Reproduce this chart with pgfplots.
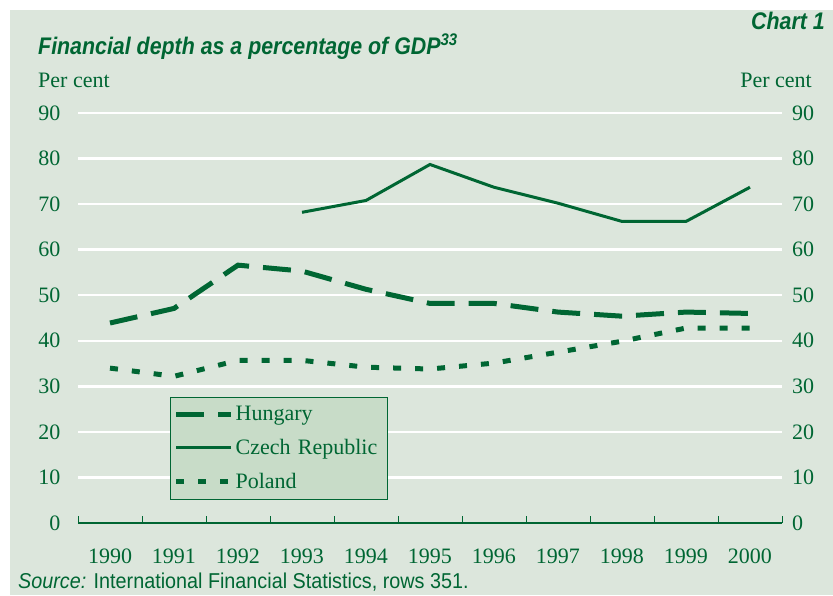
\documentclass[border=0pt]{standalone}
\usepackage{fontspec}
\setmainfont{Liberation Serif}
\newfontfamily\csans[FakeStretch=0.89]{Liberation Sans}
\newfontfamily\ssans[FakeStretch=0.92]{Liberation Sans}
\usepackage{pgfplots}
\pgfplotsset{compat=1.18}
\definecolor{dg}{RGB}{0,102,51}
\definecolor{bgc}{RGB}{220,230,220}
\definecolor{lgc}{RGB}{200,220,200}
\begin{document}
\begin{tikzpicture}
\fill[white] (0pt,0pt) rectangle (833pt,595pt);
\fill[bgc] (10pt,0pt) rectangle (833pt,585pt);
\begin{axis}[
  at={(78pt,72pt)}, anchor=south west,
  scale only axis, width=704pt, height=410pt,
  xmin=1989.5, xmax=2000.5, ymin=0, ymax=90,
  axis line style={draw=none},
  ytick={10,20,...,90},
  extra y ticks={0}, extra y tick style={grid=none},
  ymajorgrids, grid style={white, line width=2.5pt},
  xtick={1990,...,2000},
  xticklabels={1990,1991,1992,1993,1994,1995,1996,1997,1998,1999,2000},
  xminorticks=false, yminorticks=false,
  major tick length=0pt,
  xtick pos=bottom, ytick pos=left,
  xtick style={draw=none}, ytick style={draw=none},
  tick label style={font=\fontsize{22}{24}\selectfont, text=dg},
  /pgf/number format/assume math mode=true,
  /pgf/number format/1000 sep={},
  xticklabel style={yshift=-22pt},
  yticklabel style={xshift=-14pt},
  clip=false,
  legend style={at={(rel axis cs:0.131,0.307)}, anchor=north west,
    fill=lgc, draw=dg, line width=0.8pt, text=dg,
    font=\fontsize{22}{24}\selectfont, row sep=13pt, inner xsep=3pt, inner ysep=7pt,
    text width=147pt},
  legend cell align=left,
  legend image code/.code={\draw[#1] (0pt,0pt) -- (55pt,0pt);},
]
\draw[dg, line width=1.2pt] (axis cs:1989.5,0) -- (axis cs:2000.5,0);
\pgfplotsinvokeforeach{1989.5,1990.5,1991.5,1992.5,1993.5,1994.5,1995.5,1996.5,1997.5,1998.5,1999.5,2000.5}{
  \draw[dg, line width=1pt] (axis cs:#1,0) -- (axis cs:#1,1.55);
}
\pgfplotsinvokeforeach{0,10,20,30,40,50,60,70,80,90}{
  \node[anchor=west, inner sep=0pt, text=dg, font=\fontsize{22}{24}\selectfont] at (axis cs:2000.5,#1) {\hspace*{10pt}#1};
}
\addplot[dg, line width=5pt, dash pattern=on 28pt off 14pt] coordinates {
(1990,43.9)(1991,47.1)(1992,56.6)(1993,55.3)(1994,51.3)(1995,48.2)
(1996,48.2)(1997,46.3)(1998,45.4)(1999,46.3)(2000,46.0)};
\addlegendentry{Hungary}
\addplot[dg, line width=3pt] coordinates {
(1993,68.2)(1994,70.8)(1995,78.7)(1996,73.7)(1997,70.2)(1998,66.2)(1999,66.2)(2000,73.7)};
\addlegendentry{Czech Republic}
\addplot[dg, line width=5pt, dash pattern=on 8pt off 14pt] coordinates {
(1990,34.0)(1991,32.2)(1992,35.7)(1993,35.7)(1994,34.2)(1995,33.8)
(1996,35.1)(1997,37.5)(1998,39.9)(1999,42.8)(2000,42.8)};
\addlegendentry{Poland}
\end{axis}
\node[anchor=base west, text=dg, inner sep=0pt, font=\fontsize{22}{24}\selectfont] at (38pt,507pt) {Per cent};
\node[anchor=base east, text=dg, inner sep=0pt, font=\fontsize{22}{24}\selectfont] at (812pt,507pt) {Per cent};
\node[anchor=base west, text=dg, inner sep=0pt, font=\csans\bfseries\itshape\fontsize{24}{26}\selectfont] at (38pt,540pt) {Financial depth as a percentage of GDP\textsuperscript{33}};
\node[anchor=base east, text=dg, inner sep=0pt, font=\csans\bfseries\itshape\fontsize{24}{26}\selectfont] at (825pt,565pt) {Chart 1};
\node[anchor=base west, text=dg, inner sep=0pt, font=\ssans\fontsize{21.5}{24}\selectfont] at (18pt,7pt) {\textit{Source:} International Financial Statistics, rows 351.};
\end{tikzpicture}
\end{document}
